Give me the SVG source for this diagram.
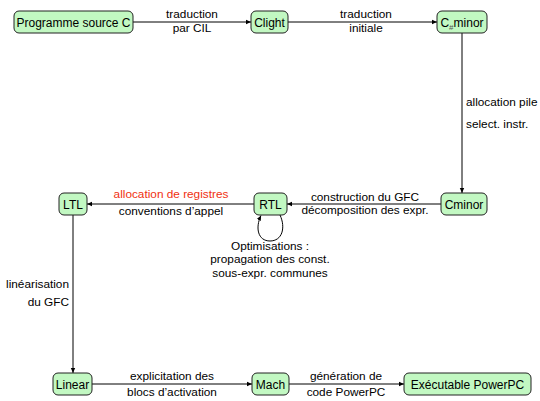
<svg xmlns="http://www.w3.org/2000/svg" width="540" height="401" viewBox="0 0 540 401">
<defs>
<marker id="ah" markerWidth="6" markerHeight="6" refX="5" refY="3" orient="auto" markerUnits="userSpaceOnUse">
<path d="M0,0.8 L5,3 L0,5.2 Z" fill="#000"/>
</marker>
<style>
.n rect{fill:#c2f8c2;stroke:#222;stroke-width:1;}
.n text{font-family:"Liberation Sans",Arial,sans-serif;font-size:12px;text-anchor:middle;fill:#000;}
.c line,.c path{stroke:#000;stroke-width:1;fill:none;marker-end:url(#ah);}
.l{font-family:"Liberation Sans",Arial,sans-serif;font-size:11.8px;fill:#000;text-anchor:middle;}
.r{fill:#f03010;}
.s{text-anchor:start;}
.e{text-anchor:end;}
</style>
</defs>
<rect width="540" height="401" fill="#fff"/>
<g class="c">
<line x1="133" y1="22" x2="251" y2="22"/>
<line x1="288" y1="22" x2="437" y2="22"/>
<line x1="462" y1="33" x2="462" y2="193"/>
<line x1="441" y1="204" x2="287" y2="204"/>
<line x1="254" y1="204" x2="87" y2="204"/>
<path d="M280,215 C286,228 282,241 270,241 C258,241 255,228 261,215.5"/>
<line x1="73" y1="215" x2="73" y2="373"/>
<line x1="92" y1="384" x2="252" y2="384"/>
<line x1="289" y1="384" x2="404" y2="384"/>
</g>
<g id="labels">
<text class="l" x="192" y="18">traduction</text>
<text class="l" x="192" y="32">par CIL</text>
<text class="l" x="366" y="18">traduction</text>
<text class="l" x="366" y="32">initiale</text>
<text class="l s" x="466" y="106">allocation pile</text>
<text class="l s" x="466" y="128">select. instr.</text>
<text class="l" x="365" y="201">construction du GFC</text>
<text class="l" x="365" y="214">décomposition des expr.</text>
<text class="l r" x="171" y="198">allocation de registres</text>
<text class="l" x="171" y="215">conventions d’appel</text>
<text class="l" x="270" y="250">Optimisations :</text>
<text class="l" x="270" y="263">propagation des const.</text>
<text class="l" x="270" y="277">sous-expr. communes</text>
<text class="l e" x="69" y="288">linéarisation</text>
<text class="l e" x="69" y="306">du GFC</text>
<text class="l" x="172" y="380">explicitation des</text>
<text class="l" x="172" y="396">blocs d’activation</text>
<text class="l" x="346" y="380">génération de</text>
<text class="l" x="346" y="396">code PowerPC</text>
</g>
<g id="n1" class="n"><rect x="14" y="11" width="119" height="22" rx="5"/><text x="73.5" y="26.5">Programme source C</text></g>
<g id="n2" class="n"><rect x="251" y="11" width="37" height="22" rx="5"/><text x="269.5" y="26.5">Clight</text></g>
<g id="n3" class="n"><rect x="437" y="11" width="50" height="22" rx="5"/><text x="462" y="26.5">C<tspan font-size="8" dy="3" fill="#555">#</tspan><tspan dy="-3">minor</tspan></text></g>
<g id="n4" class="n"><rect x="441" y="193" width="46" height="22" rx="5"/><text x="464" y="208.5">Cminor</text></g>
<g id="n5" class="n"><rect x="254" y="193" width="33" height="22" rx="5"/><text x="270.5" y="208.5">RTL</text></g>
<g id="n6" class="n"><rect x="59" y="193" width="28" height="22" rx="5"/><text x="73" y="208.5">LTL</text></g>
<g id="n7" class="n"><rect x="53" y="373" width="39" height="22" rx="5"/><text x="72.5" y="388.5">Linear</text></g>
<g id="n8" class="n"><rect x="252" y="373" width="37" height="22" rx="5"/><text x="270.5" y="388.5">Mach</text></g>
<g id="n9" class="n"><rect x="404" y="373" width="127" height="22" rx="5"/><text x="467.5" y="388.5">Exécutable PowerPC</text></g>
</svg>
